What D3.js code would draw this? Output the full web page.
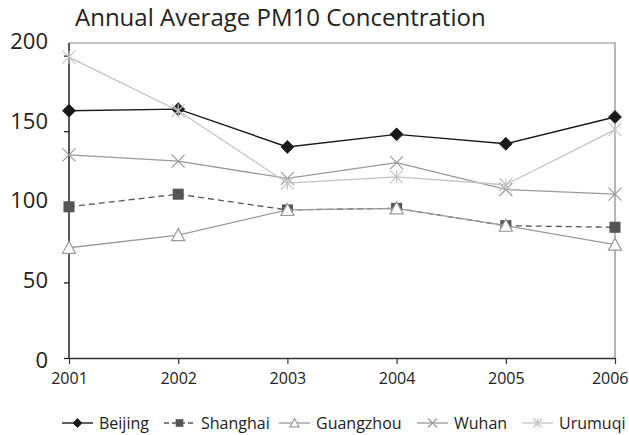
<!DOCTYPE html>
<html>
<head>
<meta charset="utf-8">
<script src="https://cdn.jsdelivr.net/npm/d3@7/dist/d3.min.js"></script>
<style>
  html, body { margin: 0; padding: 0; background: #fff; }
  svg { display: block; }
  text { font-family: "Open Sans", "Noto Sans", sans-serif; fill: #222; }
</style>
</head>
<body>
<svg id="chart" width="629" height="435"></svg>
<script>
// Annual average PM10 concentration by city, 2001–2006
const years = [2001, 2002, 2003, 2004, 2005, 2006];
const beijing   = [157, 158, 134, 142, 136, 153];
const shanghai  = [96, 104, 94, 95, 84, 83];
const guangzhou = [70, 78, 94, 95, 84, 72];
const wuhan     = [129, 125, 114, 124, 107, 104];
const urumqi    = [191, 157, 111, 115, 110, 145];
const cityNames = ["Beijing", "Shanghai", "Guangzhou", "Wuhan", "Urumuqi"];
const yLabels = [0, 50, 100, 150, 200];
const yTickMarks = [0, 48, 96, 144, 192];
const titleText = "Annual Average PM10 Concentration";

const series = [
  { name: cityNames[0], values: beijing,   color: "#1a1a1a", width: 1.4, dash: null,  marker: "diamond" },
  { name: cityNames[1], values: shanghai,  color: "#555555", width: 1.3, dash: "6,4", marker: "square" },
  { name: cityNames[2], values: guangzhou, color: "#9a9a9a", width: 1.3, dash: null,  marker: "triangle" },
  { name: cityNames[3], values: wuhan,     color: "#999999", width: 1.3, dash: null,  marker: "cross" },
  { name: cityNames[4], values: urumqi,    color: "#c4c4c4", width: 1.3, dash: null,  marker: "star" }
];

const svg = d3.select("#chart");
const plot = { left: 69, right: 615, top: 43, bottom: 358 };

const x = d3.scalePoint().domain(years).range([plot.left, plot.right]);
const y = d3.scaleLinear().domain([0, 200]).range([plot.bottom, plot.top]);

// Title
svg.append("text")
  .attr("x", 75).attr("y", 26)
  .attr("font-size", 24)
  .text(titleText);

// Frame: top and right borders
svg.append("path")
  .attr("d", `M${plot.left},${plot.top}H${plot.right}V${plot.bottom}`)
  .attr("fill", "none").attr("stroke", "#888").attr("stroke-width", 1.2);

// Y axis
const yAxis = d3.axisLeft(y).tickValues(yTickMarks).tickSize(5).tickFormat("");
const gy = svg.append("g").attr("transform", `translate(${plot.left},0)`).call(yAxis);
gy.select(".domain").attr("stroke", "#111").attr("stroke-width", 1.4).attr("d", `M0,${plot.top}V${plot.bottom}`);
gy.selectAll(".tick line").attr("stroke", "#111").attr("stroke-width", 1.2);

svg.append("g").selectAll("text").data(yLabels).join("text")
  .attr("x", 48).attr("y", d => y(d) + (d - 100) / 100 * -2)
  .attr("dy", "0.36em")
  .attr("text-anchor", "end")
  .attr("font-size", 22)
  .text(d => d);

// X axis
const xAxis = d3.axisBottom(x).tickSize(6).tickSizeOuter(0).tickPadding(9).tickFormat(d3.format("d"));
const gx = svg.append("g").attr("transform", `translate(0,${plot.bottom})`).call(xAxis);
gx.select(".domain").attr("stroke", "#333").attr("stroke-width", 1.4);
gx.selectAll(".tick line").attr("stroke", "#333").attr("stroke-width", 1.2);
gx.selectAll(".tick text").attr("font-size", 16).attr("fill", "#222")
  .attr("font-family", "'Open Sans', 'Noto Sans', sans-serif");
// keep the last year label inside the right edge
gx.selectAll(".tick text").filter(d => d === years[years.length - 1])
  .attr("text-anchor", "end").attr("dx", 13);

// Marker shapes
function drawMarker(g, type, cx, cy, s, color) {
  const h = s / 2;
  if (type === "diamond") {
    g.append("path").attr("d", `M${cx},${cy - h}L${cx + h},${cy}L${cx},${cy + h}L${cx - h},${cy}Z`)
      .attr("fill", color).attr("stroke", color).attr("stroke-width", 0.8);
  } else if (type === "square") {
    const q = h * 0.85;
    g.append("rect").attr("x", cx - q).attr("y", cy - q).attr("width", 2 * q).attr("height", 2 * q)
      .attr("fill", color);
  } else if (type === "triangle") {
    g.append("path").attr("d", `M${cx},${cy - h}L${cx + h},${cy + h * 0.85}L${cx - h},${cy + h * 0.85}Z`)
      .attr("fill", "#fff").attr("stroke", color).attr("stroke-width", 1.2);
  } else if (type === "cross") {
    g.append("path").attr("d", `M${cx - h},${cy - h}L${cx + h},${cy + h}M${cx + h},${cy - h}L${cx - h},${cy + h}`)
      .attr("stroke", color).attr("stroke-width", 1.2);
  } else if (type === "star") {
    g.append("path").attr("d",
      `M${cx - h},${cy - h}L${cx + h},${cy + h}M${cx + h},${cy - h}L${cx - h},${cy + h}M${cx},${cy - h}V${cy + h}`)
      .attr("stroke", color).attr("stroke-width", 1.2);
  }
}

const line = d3.line().x((d, i) => x(years[i])).y(d => y(d));

series.forEach(s => {
  const g = svg.append("g");
  g.append("path").attr("d", line(s.values))
    .attr("fill", "none").attr("stroke", s.color).attr("stroke-width", s.width)
    .attr("stroke-dasharray", s.dash);
  s.values.forEach((v, i) => drawMarker(g, s.marker, x(years[i]), y(v), 13, s.color));
});

// Legend
const legendX = [62, 164, 279, 417, 522];
const legendY = 423;
series.forEach((s, i) => {
  const g = svg.append("g");
  const x0 = legendX[i];
  g.append("line").attr("x1", x0).attr("x2", x0 + 31).attr("y1", legendY).attr("y2", legendY)
    .attr("stroke", s.color).attr("stroke-width", s.width).attr("stroke-dasharray", s.dash ? "5,3" : null);
  drawMarker(g, s.marker, x0 + 15.5, legendY, 9, s.color);
  g.append("text").attr("x", x0 + 37).attr("y", legendY).attr("dy", "0.36em")
    .attr("font-size", 16).text(s.name);
});
</script>
</body>
</html>
